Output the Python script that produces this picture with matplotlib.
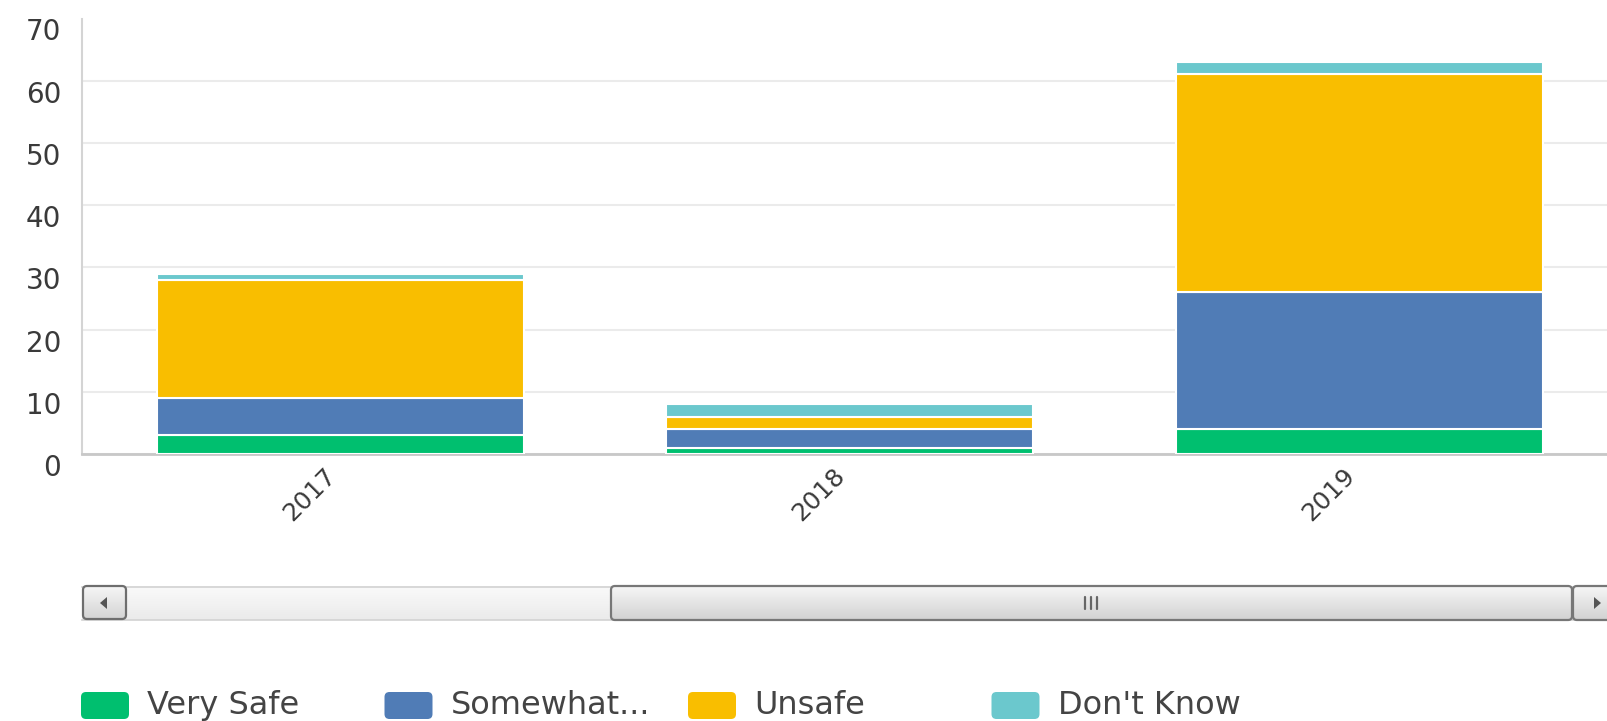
import matplotlib
matplotlib.use("Agg")
import matplotlib.pyplot as plt
import matplotlib.transforms as mtransforms
import numpy as np
from matplotlib.patches import FancyBboxPatch, Polygon, Rectangle

years = ["2017", "2018", "2019"]
series_names = ["Very Safe", "Somewhat...", "Unsafe", "Don't Know"]
very_safe = [3, 1, 4]
somewhat = [6, 3, 22]
unsafe = [19, 2, 35]
dont_know = [1, 2, 2]
series_values = [very_safe, somewhat, unsafe, dont_know]
colors = ["#00bf6f", "#507cb6", "#f9be00", "#6bc8cd"]
y_ticks = [0, 10, 20, 30, 40, 50, 60, 70]

W, H = 1607, 721
fig = plt.figure(figsize=(W / 100, H / 100), dpi=100)

# overlay in pixel coords for the scrollbar and legend
ov = fig.add_axes([0, 0, 1, 1])
ov.set_xlim(0, W)
ov.set_ylim(H, 0)
ov.axis("off")

# main chart
ax = fig.add_axes([82 / W, (H - 454) / H, (W - 82) / W, 435.5 / H])
x = np.arange(len(years))
bottom = np.zeros(len(years))
for vals, col in zip(series_values, colors):
    ax.bar(x, vals, bottom=bottom, width=0.72, color=col, edgecolor="white",
           linewidth=1.5, zorder=3)
    bottom += np.array(vals)

ax.set_xlim(-0.507, 2.486)
ax.set_ylim(0, 70)
ax.set_yticks(y_ticks)
ax.set_xticks(x)
ax.set_xticklabels(years, rotation=45, ha="right", va="top", fontsize=18,
                   color="#3a3a3a")
ax.set_yticklabels([str(t) for t in y_ticks], fontsize=20, color="#3a3a3a")
ax.tick_params(axis="both", length=0)
ax.tick_params(axis="y", pad=15)
ax.tick_params(axis="x", pad=7)
ax.yaxis.grid(True, color="#ebebeb", linewidth=1.5)
ax.set_axisbelow(True)
ax.yaxis.get_gridlines()[-1].set_visible(False)
for side in ("top", "right"):
    ax.spines[side].set_visible(False)
ax.spines["left"].set_color("#d4d4d4")
ax.spines["left"].set_linewidth(1.5)
ax.spines["bottom"].set_color("#c8c8c8")
ax.spines["bottom"].set_linewidth(2)
ax.set_facecolor("none")

shift = mtransforms.ScaledTranslation(0, -11 / 100, fig.dpi_scale_trans)
for lab in ax.get_yticklabels():
    lab.set_transform(lab.get_transform() + shift)


def gradient_box(x0, y0, x1, y1, top, bot, edge, lw, rad):
    patch = FancyBboxPatch((x0, y0), x1 - x0, y1 - y0,
                           boxstyle=f"round,pad=0,rounding_size={rad}",
                           facecolor="none", edgecolor=edge, linewidth=lw, zorder=3)
    ov.add_patch(patch)
    c0 = np.array(matplotlib.colors.to_rgb(top))
    c1 = np.array(matplotlib.colors.to_rgb(bot))
    t = np.linspace(0, 1, 64)[:, None, None]
    img = c0 * (1 - t) + c1 * t
    im = ov.imshow(img, extent=(x0, x1, y1, y0), aspect="auto", zorder=2,
                   interpolation="bilinear")
    im.set_clip_path(patch)


# scrollbar track
track = Rectangle((82, 586), W - 82, 34, facecolor="none", edgecolor="none")
ov.add_patch(track)
t = np.linspace(0, 1, 64)[:, None, None]
trk = np.array([0.98, 0.98, 0.98]) * (1 - t) + np.array([0.92, 0.92, 0.92]) * t
ov.imshow(trk, extent=(82, W, 620, 586), aspect="auto", zorder=1)
ov.plot([82, W], [586.5, 586.5], color="#d2d2d2", lw=1.2, zorder=1.5)
ov.plot([82, W], [619.5, 619.5], color="#d2d2d2", lw=1.2, zorder=1.5)

gradient_box(83, 586, 126, 619, "#f6f6f6", "#d4d4d4", "#6e6e6e", 1.6, 4)
gradient_box(611, 586, 1572, 620, "#f6f6f6", "#d2d2d2", "#777777", 1.6, 4)
gradient_box(1573, 586, 1625, 620, "#f6f6f6", "#d2d2d2", "#777777", 1.6, 4)
ov.add_patch(Polygon([[100, 603], [107, 597], [107, 609]], closed=True,
                     facecolor="#555555", edgecolor="none", zorder=4))
ov.add_patch(Polygon([[1601, 603], [1594, 597], [1594, 609]], closed=True,
                     facecolor="#555555", edgecolor="none", zorder=4))
for gx in (1085, 1091, 1097):
    ov.plot([gx, gx], [597, 609], color="#666666", lw=1.6, zorder=4,
            solid_capstyle="round")

# legend
for i, (name, col) in enumerate(zip(series_names, colors)):
    lx = 81 + i * 303.5
    ov.add_patch(FancyBboxPatch((lx, 692), 48, 27,
                                boxstyle="round,pad=0,rounding_size=5",
                                facecolor=col, edgecolor="none", zorder=3))
    ov.text(lx + 66, 714, name, fontsize=23, color="#444444",
            ha="left", va="baseline", zorder=3)

ov.set_xlim(0, W)
ov.set_ylim(H, 0)

fig.savefig("out.png", dpi=100)
